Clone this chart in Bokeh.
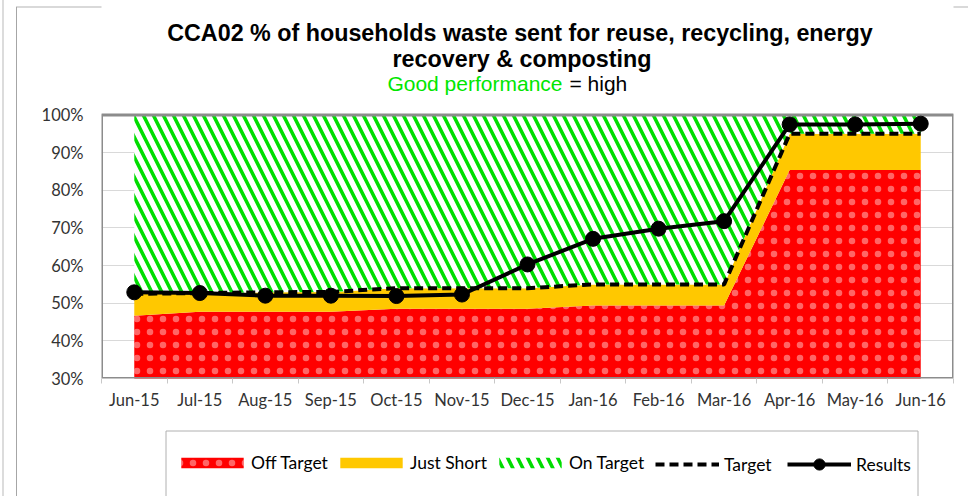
from bokeh.plotting import figure
from bokeh.layouts import column
from bokeh.models import FixedTicker, Label, Legend, LegendItem, Range1d
from bokeh.embed import file_html
from bokeh.resources import INLINE

months = ["Jun-15", "Jul-15", "Aug-15", "Sep-15", "Oct-15", "Nov-15", "Dec-15",
          "Jan-16", "Feb-16", "Mar-16", "Apr-16", "May-16", "Jun-16"]
off_target = [46.7, 47.7, 47.7, 47.7, 48.5, 48.5, 48.5, 49.4, 49.4, 49.4, 85.4, 85.4, 85.4]
target = [52.5, 52.7, 52.9, 53.0, 54.0, 54.0, 54.0, 55.0, 55.0, 55.0, 95.0, 95.0, 95.0]
on_target_top = [100] * 13
results = [52.9, 52.7, 52.0, 52.0, 51.9, 52.3, 60.3, 67.1, 69.8, 71.8, 97.5, 97.5, 97.7]
y_ticks = [30, 40, 50, 60, 70, 80, 90, 100]
y_tick_labels = ["30%", "40%", "50%", "60%", "70%", "80%", "90%", "100%"]

x = [i + 0.5 for i in range(len(months))]
bottom = [0] * len(months)

red_style = dict(fill_color="#ff0000", hatch_pattern="dot", hatch_color="white",
                 hatch_alpha=0.4, hatch_scale=13, hatch_weight=0.5)
yellow_style = dict(fill_color="#ffc800")
green_style = dict(fill_color="white", hatch_pattern="left_diagonal_line",
                   hatch_color="#00dd00", hatch_scale=20, hatch_weight=3.5)
target_style = dict(line_color="black", line_width=4, line_dash="9 5")
results_style = dict(line_color="black", line_width=4)
marker_style = dict(size=15, fill_color="black", line_color="black")

BG = ("linear-gradient(#a6a6a6,#a6a6a6) 16px 7px / 1px 100% no-repeat, "
      "linear-gradient(#d9d9d9,#d9d9d9) 16px 6px / 100% 2px no-repeat, "
      "linear-gradient(#dcdcdc,#dcdcdc) 2px 0px / 2px 100% no-repeat, #ffffff")
BG2 = ("linear-gradient(#a6a6a6,#a6a6a6) 16px 0px / 1px 100% no-repeat, "
       "linear-gradient(#dcdcdc,#dcdcdc) 2px 0px / 2px 100% no-repeat, #ffffff")

Y_MIN, Y_MAX = y_ticks[0], y_ticks[-1]
PX_PER_UNIT = 263.5 / (Y_MAX - Y_MIN)
FRAME_H = 378
p = figure(width=968, height=420, x_range=Range1d(0, len(months)),
           y_range=Range1d(Y_MIN, Y_MIN + FRAME_H / PX_PER_UNIT),
           output_backend="svg", toolbar_location=None, title=None,
           min_border_left=101, min_border_right=15, min_border_top=0, min_border_bottom=42)
p.border_fill_color = None
p.styles = {"background": BG}

p.outline_line_color = None
p.xgrid.visible = False
p.ygrid.grid_line_color = "#d9d9d9"
p.ygrid.grid_line_width = 1

p.varea(x=x, y1=bottom, y2=off_target, **red_style)
p.varea(x=x, y1=off_target, y2=target, **yellow_style)
p.varea(x=x, y1=target, y2=on_target_top, **green_style)
# plot-area border
p.quad(left=[0], right=[len(months)], bottom=[Y_MIN], top=[Y_MAX],
       fill_color=None, line_color="#8c8c8c", line_width=3)
p.line(x=x, y=target, **target_style)
p.line(x=x, y=results, **results_style)
p.scatter(x=x, y=results, **marker_style)

p.xaxis.ticker = FixedTicker(ticks=x, minor_ticks=list(range(len(months) + 1)))
p.xaxis.major_label_overrides = {xx: m for xx, m in zip(x, months)}
p.yaxis.ticker = FixedTicker(ticks=y_ticks)
p.yaxis.major_label_overrides = {t: l for t, l in zip(y_ticks, y_tick_labels)}
for ax in (p.xaxis, p.yaxis):
    ax.axis_line_color = None
    ax.major_tick_line_color = None
    ax.major_tick_out = 0
    ax.major_tick_in = 0
    ax.major_label_text_font = "Lato"
    ax.major_label_text_font_size = "16.5px"
    ax.major_label_text_color = "#333333"
p.xaxis.minor_tick_line_color = "#c8c8c8"
p.xaxis.minor_tick_in = 0
p.xaxis.minor_tick_out = 5
p.xaxis.major_label_standoff = 6
p.yaxis.minor_tick_line_color = None
p.yaxis.major_label_standoff = 18

title_font = dict(text_font="Liberation Sans", text_font_style="bold",
                  text_font_size="23.3px", text_color="black", text_baseline="middle")
p.add_layout(Label(x=418.5, y=345.4, x_units="screen", y_units="screen",
                   text="CCA02 % of households waste sent for reuse, recycling, energy",
                   text_align="center", **title_font))
p.add_layout(Label(x=420.5, y=319.4, x_units="screen", y_units="screen",
                   text="recovery & composting", text_align="center", **title_font))
p.add_layout(Label(x=461, y=295.3, x_units="screen", y_units="screen",
                   text="Good performance", text_align="right", text_baseline="middle",
                   text_font="Liberation Sans", text_font_size="21px", text_color="#00e600"))
p.add_layout(Label(x=468, y=295.3, x_units="screen", y_units="screen",
                   text="= high", text_align="left", text_baseline="middle",
                   text_font="Liberation Sans", text_font_size="21px", text_color="black"))

# ---- legend strip (its frame is aligned with the chart frame by the column) ----
LEG_H = 76
FRAME_LEFT, FRAME_RIGHT = 101, 953
pl = figure(width=968, height=LEG_H, x_range=Range1d(FRAME_LEFT, FRAME_RIGHT),
            y_range=Range1d(0, LEG_H),
            output_backend="svg", toolbar_location=None, title=None,
            x_axis_location=None, y_axis_location=None, min_border=0)
pl.outline_line_color = None
pl.border_fill_color = None
pl.styles = {"background": BG2}
pl.grid.visible = False
# legend box
pl.quad(left=[165.5], right=[917.5], bottom=[-10], top=[65.5],
        fill_color=None, line_color="#b0b0b0", line_width=1)
off = [-50, -40]
lr = pl.varea(x=off, y1=[0, 0], y2=[1, 1], **red_style)
ly = pl.varea(x=off, y1=[0, 0], y2=[1, 1], **yellow_style)
lg = pl.varea(x=off, y1=[0, 0], y2=[1, 1], **green_style)
lt = pl.line(x=off, y=[1, 1], **target_style)
lres = pl.line(x=off, y=[1, 1], **results_style)
lm = pl.scatter(x=off, y=[1, 1], **marker_style)

common = dict(orientation="horizontal", padding=0, margin=0, border_line_color=None,
              background_fill_alpha=0, label_text_font="Lato",
              label_text_font_size="17.5px", label_text_color="black", label_height=20)
leg_a = Legend(items=[LegendItem(label="Off Target", renderers=[lr]),
                      LegendItem(label="Just Short", renderers=[ly]),
                      LegendItem(label="On Target", renderers=[lg])],
               location=(72, 23), glyph_width=78, glyph_height=13,
               label_standoff=0, label_width=80, spacing=1, **common)
leg_b = Legend(items=[LegendItem(label="Target", renderers=[lt]),
                      LegendItem(label="Results", renderers=[lres, lm])],
               location=(554, 18), glyph_width=64, glyph_height=28,
               label_standoff=5, label_width=63, spacing=0, **common)
pl.add_layout(leg_a, "center")
pl.add_layout(leg_b, "center")

layout = column(p, pl, spacing=0)
open("out.html", "w").write(file_html(layout, INLINE))
